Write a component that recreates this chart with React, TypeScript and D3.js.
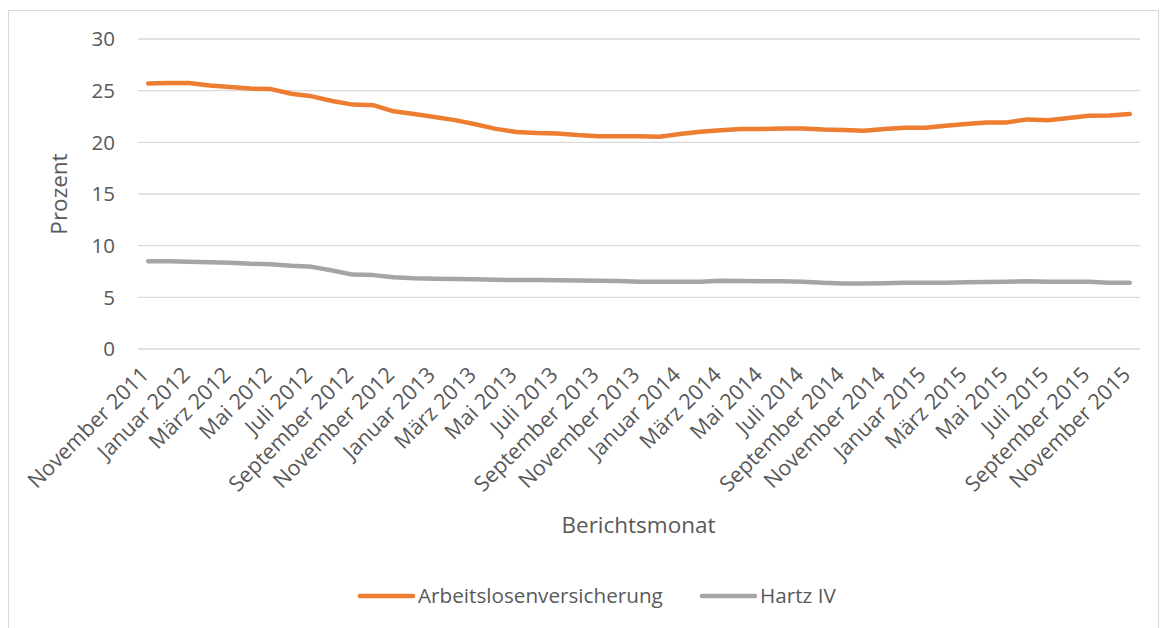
import React from 'react';
import * as d3 from 'd3';

const months = [
  'November 2011', 'Dezember 2011',
  'Januar 2012', 'Februar 2012', 'März 2012', 'April 2012', 'Mai 2012', 'Juni 2012',
  'Juli 2012', 'August 2012', 'September 2012', 'Oktober 2012', 'November 2012', 'Dezember 2012',
  'Januar 2013', 'Februar 2013', 'März 2013', 'April 2013', 'Mai 2013', 'Juni 2013',
  'Juli 2013', 'August 2013', 'September 2013', 'Oktober 2013', 'November 2013', 'Dezember 2013',
  'Januar 2014', 'Februar 2014', 'März 2014', 'April 2014', 'Mai 2014', 'Juni 2014',
  'Juli 2014', 'August 2014', 'September 2014', 'Oktober 2014', 'November 2014', 'Dezember 2014',
  'Januar 2015', 'Februar 2015', 'März 2015', 'April 2015', 'Mai 2015', 'Juni 2015',
  'Juli 2015', 'August 2015', 'September 2015', 'Oktober 2015', 'November 2015',
];

const arbeitslosenversicherung = [
  25.7, 25.75, 25.75, 25.5, 25.35, 25.2, 25.15, 24.7, 24.45, 24.0,
  23.65, 23.6, 23.0, 22.75, 22.45, 22.15, 21.75, 21.3, 21.0, 20.9,
  20.85, 20.7, 20.6, 20.6, 20.6, 20.55, 20.8, 21.03, 21.16, 21.3,
  21.3, 21.35, 21.35, 21.25, 21.2, 21.13, 21.3, 21.42, 21.42, 21.6,
  21.77, 21.93, 21.93, 22.22, 22.13, 22.35, 22.58, 22.6, 22.74,
];

const hartzIV = [
  8.5, 8.5, 8.45, 8.4, 8.35, 8.25, 8.2, 8.05, 7.95, 7.6,
  7.2, 7.15, 6.95, 6.85, 6.8, 6.78, 6.75, 6.7, 6.67, 6.67,
  6.65, 6.62, 6.6, 6.57, 6.5, 6.5, 6.5, 6.52, 6.6, 6.58,
  6.55, 6.55, 6.5, 6.4, 6.35, 6.35, 6.37, 6.4, 6.4, 6.42,
  6.45, 6.48, 6.5, 6.55, 6.5, 6.5, 6.5, 6.42, 6.42,
];

const yTicks = [0, 5, 10, 15, 20, 25, 30];

const series = [
  { name: 'Arbeitslosenversicherung', values: arbeitslosenversicherung, color: '#ED7D31' },
  { name: 'Hartz IV', values: hartzIV, color: '#A5A5A5' },
];

const W = 1165;
const H = 628;
const plot = { left: 138, right: 1140, top: 39, bottom: 349 };
const font = '"Open Sans", sans-serif';
const textColor = '#595959';

export default function App() {
  const x = d3.scalePoint<string>().domain(months).range([plot.left, plot.right]).padding(0.5);
  const y = d3.scaleLinear().domain([0, 30]).range([plot.bottom, plot.top]);

  const line = d3.line<number>()
    .x((_, i) => x(months[i]) as number)
    .y((d) => y(d));

  // every second month gets a label
  const tickMonths = months.filter((_, i) => i % 2 === 0);

  return (
    <svg width={W} height={H} style={{ position: 'absolute', left: 0, top: 0, background: '#fff' }}>
      <rect x={8.5} y={10.5} width={1150} height={640} fill="#fff" stroke="#D9D9D9" />

      {/* Grid + y labels */}
      {yTicks.map((t) => (
        <g key={t}>
          <line x1={plot.left} x2={plot.right} y1={y(t)} y2={y(t)} stroke="#D9D9D9" strokeWidth={1.3} />
          <text x={115} y={y(t)} dy="0.36em" textAnchor="end" fontFamily={font} fontSize={20.5} fill={textColor}>
            {t}
          </text>
        </g>
      ))}

      {/* X tick labels */}
      {tickMonths.map((m) => (
        <text
          key={m}
          transform={`translate(${(x(m) as number) + 2},${376}) rotate(-45)`}
          textAnchor="end"
          fontFamily={font}
          fontSize={21.5}
          fill={textColor}
        >
          {m}
        </text>
      ))}

      {/* Lines */}
      {series.map((s) => (
        <path
          key={s.name}
          d={line(s.values) ?? ''}
          fill="none"
          stroke={s.color}
          strokeWidth={4.5}
          strokeLinejoin="round"
          strokeLinecap="round"
        />
      ))}

      {/* Axis titles */}
      <text
        transform={`translate(${59},${194}) rotate(-90)`}
        textAnchor="middle"
        dy="0.36em"
        fontFamily={font}
        fontSize={22.5}
        fill={textColor}
      >
        Prozent
      </text>
      <text x={638.5} y={525} textAnchor="middle" dy="0.36em" fontFamily={font} fontSize={22.5} fill={textColor}>
        Berichtsmonat
      </text>

      {/* Legend */}
      <g>
        <line x1={360} x2={413} y1={596} y2={596} stroke={series[0].color} strokeWidth={4.5} strokeLinecap="round" />
        <text x={418} y={596} dy="0.36em" fontFamily={font} fontSize={20.7} fill={textColor}>
          {series[0].name}
        </text>
        <line x1={702} x2={755} y1={596} y2={596} stroke={series[1].color} strokeWidth={4.5} strokeLinecap="round" />
        <text x={760} y={596} dy="0.36em" fontFamily={font} fontSize={20.7} fill={textColor}>
          {series[1].name}
        </text>
      </g>
    </svg>
  );
}
